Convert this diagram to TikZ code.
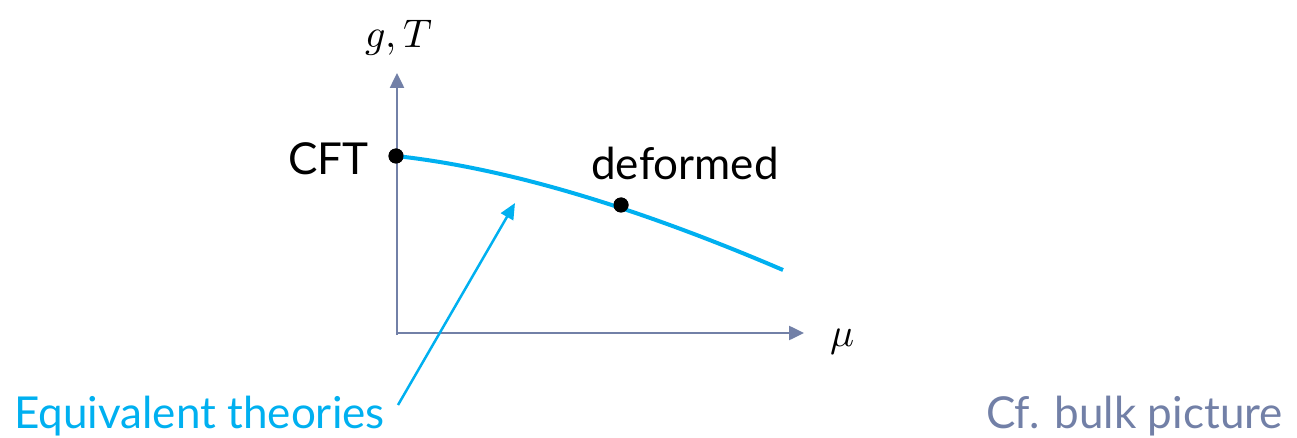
\documentclass[tikz,border=0pt]{standalone}
\usepackage{fontspec}
\usepackage{unicode-math}
\setmainfont{Lato}
\setmathfont{Latin Modern Math}
\usetikzlibrary{arrows.meta}
\definecolor{axisc}{HTML}{7280A7}
\definecolor{cyanc}{HTML}{00B0F0}
\begin{document}
\begin{tikzpicture}[x=1pt,y=-1pt,
  axis/.style={draw=axisc,line width=2.5pt,-{Triangle[length=15pt,width=14pt]}},
  dotn/.style={circle,fill=black,inner sep=0pt,minimum size=15pt},
  lbl/.style={inner sep=0pt,font=\fontsize{44}{46}\selectfont},
  mlbl/.style={inner sep=0pt,font=\fontsize{40}{42}\selectfont}]
\useasboundingbox (0,0) rectangle (1297,438);
\coordinate (yb) at (397,335);
\coordinate (xb) at (396,333);
\coordinate (ytip) at (397,73);
\coordinate (xtip) at (804,333);
\draw[axis] (yb) -- (ytip);
\draw[axis] (xb) -- (xtip);
\node[mlbl] (gT) at (399,38) {$g,T$};
\node[mlbl] (mu) at (843,342) {$\mu$};
\node[dotn] (cft) at (396,156) {};
\node[dotn] (def) at (621,205) {};
\coordinate (cend) at (783,270);
\draw[cyanc,line width=4pt] (cft.center) .. controls (506,168) and (635,206.6) .. (cend);
\node[dotn] at (cft) {};
\node[dotn] at (def) {};
\node[lbl,anchor=base east] (cfttext) at (369,175) {CFT};
\node[lbl,anchor=base] (deftext) at (685,180) {deformed};
\coordinate (atip) at (515,203);
\node[lbl,anchor=base west,text=cyanc] (eq) at (14,428) {Equivalent theories};
\draw[cyanc,line width=2.5pt,-{Triangle[length=16pt,width=14pt]}] (398,405) -- (atip);
\node[lbl,anchor=base east,text=axisc] (cf) at (1283,428) {Cf. bulk picture};
\end{tikzpicture}
\end{document}
